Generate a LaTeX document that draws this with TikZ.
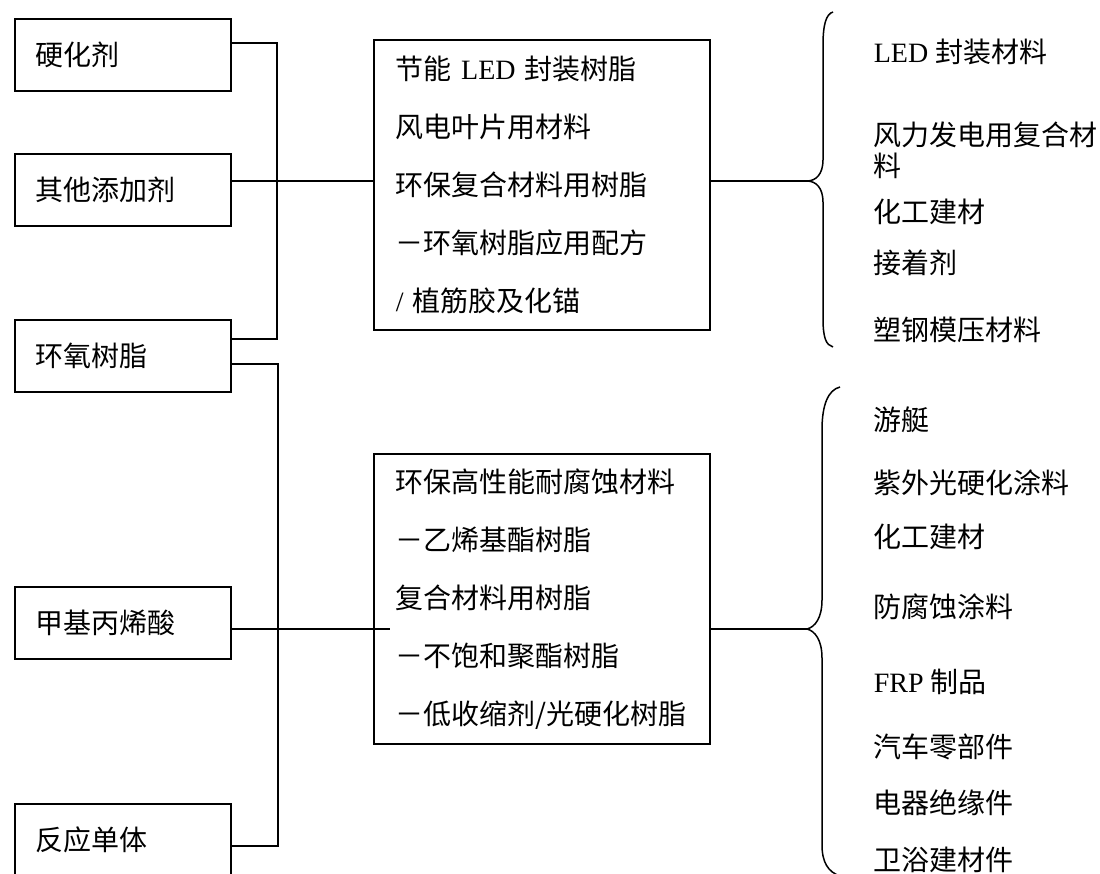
\documentclass[tikz,border=0pt]{standalone}
\usepackage{fontspec}
\setmainfont{Noto Sans CJK SC}
\newfontfamily\lat{Liberation Serif}
\begin{document}
\begin{tikzpicture}[x=1pt,y=-1pt,line width=1.7pt,
  every node/.style={font=\fontsize{28}{34}\selectfont,inner sep=0pt},
  lbox/.style={draw,anchor=north west,minimum width=216pt,minimum height=72pt,text width=174pt,inner xsep=21pt,align=left},
  cbox/.style={draw,anchor=north west,minimum width=336pt,minimum height=290pt,text width=292pt,inner xsep=22pt,align=left,font=\fontsize{28}{58}\selectfont},
  item/.style={anchor=west},
  brace/.style={line width=1.5pt}]
\clip (0,0) rectangle (1100,874);
\fill[white] (0,0) rectangle (1100,874);
% left boxes
\node[lbox] (b1) at (14,18) {硬化剂};
\node[lbox] (b2) at (14,153) {其他添加剂};
\node[lbox] (b3) at (14,319) {环氧树脂};
\node[lbox] (b4) at (14,586) {甲基丙烯酸};
\node[lbox] (b5) at (14,803) {反应单体};
% centre boxes
\node[cbox] (c1) at (373,39) {节能{\lat\ LED }封装树脂\\风电叶片用材料\\环保复合材料用树脂\\－环氧树脂应用配方\\{\lat / }植筋胶及化锚};
\node[cbox] (c2) at (373,453) {环保高性能耐腐蚀材料\\－乙烯基酯树脂\\复合材料用树脂\\－不饱和聚酯树脂\\－低收缩剂/光硬化树脂};
% right lists
\node[item] (r1) at (873,52) {{\lat LED }封装材料};
\node[item] (r2) at (873,135) {风力发电用复合材};
\node[item] (r2b) at (873,166) {料};
\node[item] (r3) at (873,212) {化工建材};
\node[item] (r4) at (873,263) {接着剂};
\node[item] (r5) at (873,330) {塑钢模压材料};
\node[item] (s1) at (873,420) {游艇};
\node[item] (s2) at (873,483) {紫外光硬化涂料};
\node[item] (s3) at (873,537) {化工建材};
\node[item] (s4) at (873,607) {防腐蚀涂料};
\node[item] (s5) at (873,682) {{\lat FRP }制品};
\node[item] (s6) at (873,747) {汽车零部件};
\node[item] (s7) at (873,803) {电器绝缘件};
\node[item] (s8) at (873,860) {卫浴建材件};
% connectors
\coordinate (t1) at (807,181);
\coordinate (t2) at (807,629);
\coordinate (m4) at (390,629);
\draw (b1.east |- 0,43) -| (277,339) -- (b3.east |- 0,339);
\draw (b2.east |- 0,181) -- (c1.west |- 0,181);
\draw (b3.east |- 0,364) -| (278,846) -- (b5.east |- 0,846);
\draw (b4.east |- m4) -- (m4);
\draw (c1.east |- t1) -- (t1);
\draw (c2.east |- t2) -- (t2);
% braces
\draw[brace] (833,12) .. controls (826,14) and (823,25) .. (823,45) -- (823,160)
  .. controls (823,174) and (816,181) .. (t1)
  .. controls (816,181) and (823,188) .. (823,202) -- (823,318)
  .. controls (823,338) and (826,345) .. (833,347);
\draw[brace] (840,387) .. controls (828,390) and (822,405) .. (822,430) -- (822,600)
  .. controls (822,618) and (815,627) .. (t2)
  .. controls (815,631) and (822,640) .. (822,658) -- (822,845)
  .. controls (822,862) and (828,872) .. (840,876);
\end{tikzpicture}
\end{document}
